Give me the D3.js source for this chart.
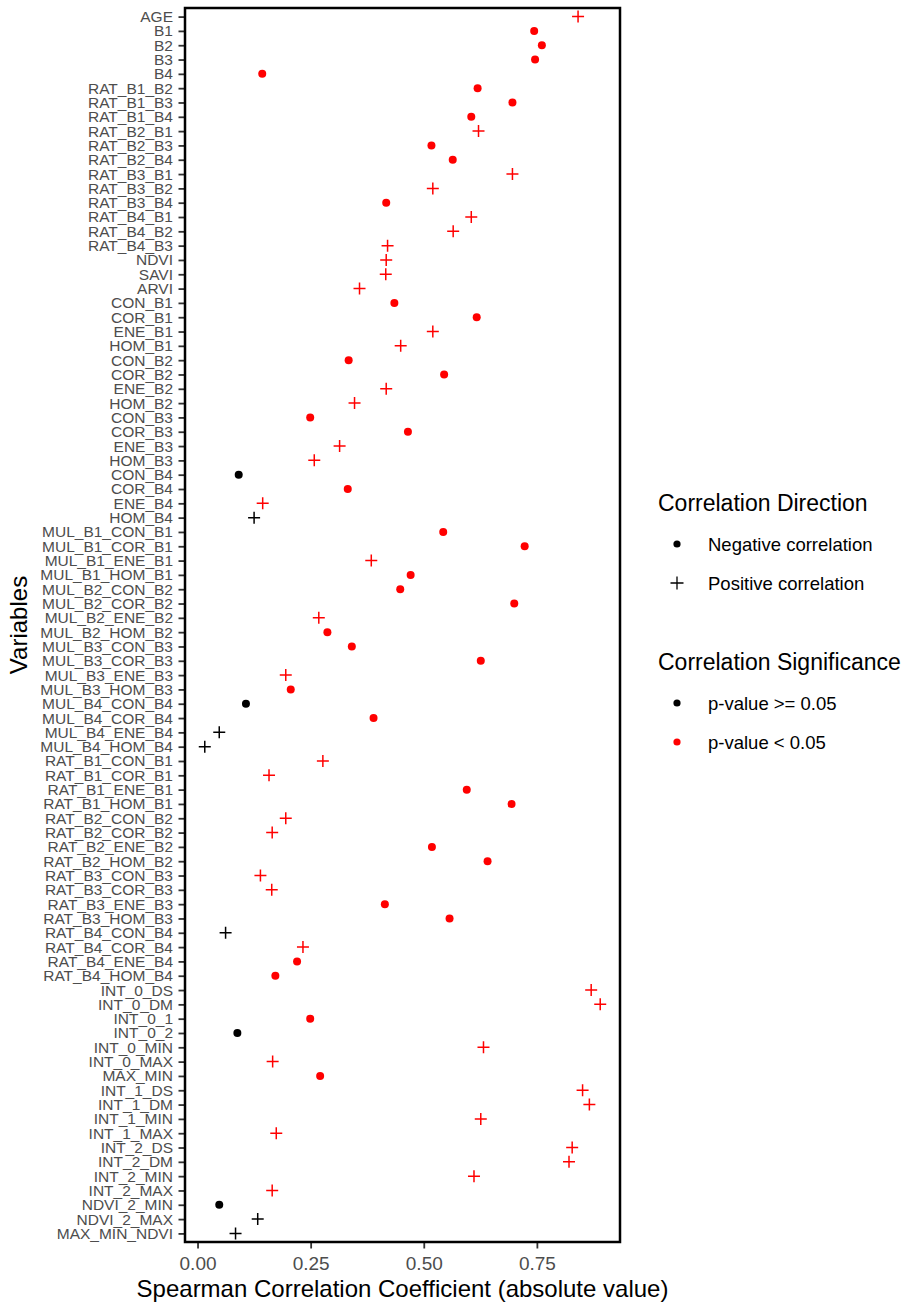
<!DOCTYPE html>
<html>
<head>
<meta charset="utf-8">
<script src="https://cdn.jsdelivr.net/npm/d3@7"></script>
<style>
  body { margin: 0; background: #fff; }
  svg { display: block; font-family: "Liberation Sans", Arial, sans-serif; }
</style>
</head>
<body>
<svg id="chart" width="919" height="1304"></svg>
<script>
// variables, top to bottom
var variables = ["AGE", "B1", "B2", "B3", "B4",
  "RAT_B1_B2", "RAT_B1_B3", "RAT_B1_B4", "RAT_B2_B1", "RAT_B2_B3", "RAT_B2_B4",
  "RAT_B3_B1", "RAT_B3_B2", "RAT_B3_B4", "RAT_B4_B1", "RAT_B4_B2", "RAT_B4_B3",
  "NDVI", "SAVI", "ARVI",
  "CON_B1", "COR_B1", "ENE_B1", "HOM_B1", "CON_B2", "COR_B2", "ENE_B2", "HOM_B2",
  "CON_B3", "COR_B3", "ENE_B3", "HOM_B3", "CON_B4", "COR_B4", "ENE_B4", "HOM_B4",
  "MUL_B1_CON_B1", "MUL_B1_COR_B1", "MUL_B1_ENE_B1", "MUL_B1_HOM_B1",
  "MUL_B2_CON_B2", "MUL_B2_COR_B2", "MUL_B2_ENE_B2", "MUL_B2_HOM_B2",
  "MUL_B3_CON_B3", "MUL_B3_COR_B3", "MUL_B3_ENE_B3", "MUL_B3_HOM_B3",
  "MUL_B4_CON_B4", "MUL_B4_COR_B4", "MUL_B4_ENE_B4", "MUL_B4_HOM_B4",
  "RAT_B1_CON_B1", "RAT_B1_COR_B1", "RAT_B1_ENE_B1", "RAT_B1_HOM_B1",
  "RAT_B2_CON_B2", "RAT_B2_COR_B2", "RAT_B2_ENE_B2", "RAT_B2_HOM_B2",
  "RAT_B3_CON_B3", "RAT_B3_COR_B3", "RAT_B3_ENE_B3", "RAT_B3_HOM_B3",
  "RAT_B4_CON_B4", "RAT_B4_COR_B4", "RAT_B4_ENE_B4", "RAT_B4_HOM_B4",
  "INT_0_DS", "INT_0_DM", "INT_0_1", "INT_0_2", "INT_0_MIN", "INT_0_MAX", "MAX_MIN",
  "INT_1_DS", "INT_1_DM", "INT_1_MIN", "INT_1_MAX",
  "INT_2_DS", "INT_2_DM", "INT_2_MIN", "INT_2_MAX",
  "NDVI_2_MIN", "NDVI_2_MAX", "MAX_MIN_NDVI"];

// |rho|
var coefValues = [0.841, 0.744, 0.761, 0.746, 0.143,
  0.619, 0.696, 0.605, 0.621, 0.517, 0.564,
  0.696, 0.520, 0.417, 0.605, 0.565, 0.420,
  0.417, 0.416, 0.358,
  0.435, 0.617, 0.520, 0.449, 0.334, 0.545, 0.417, 0.347,
  0.249, 0.465, 0.314, 0.258, 0.091, 0.332, 0.144, 0.125,
  0.543, 0.723, 0.384, 0.471,
  0.448, 0.700, 0.268, 0.287,
  0.341, 0.626, 0.195, 0.206,
  0.107, 0.389, 0.048, 0.016,
  0.277, 0.158, 0.595, 0.694,
  0.195, 0.165, 0.518, 0.641,
  0.139, 0.164, 0.414, 0.557,
  0.062, 0.233, 0.220, 0.172,
  0.870, 0.890, 0.249, 0.088, 0.632, 0.166, 0.271,
  0.851, 0.866, 0.626, 0.174,
  0.828, 0.821, 0.611, 0.165,
  0.048, 0.133, 0.084];

// N = negative, P = positive
var directions = ["P", "N", "N", "N", "N",
  "N", "N", "N", "P", "N", "N",
  "P", "P", "N", "P", "P", "P",
  "P", "P", "P",
  "N", "N", "P", "P", "N", "N", "P", "P",
  "N", "N", "P", "P", "N", "N", "P", "P",
  "N", "N", "P", "N",
  "N", "N", "P", "N",
  "N", "N", "P", "N",
  "N", "N", "P", "P",
  "P", "P", "N", "N",
  "P", "P", "N", "N",
  "P", "P", "N", "N",
  "P", "P", "N", "N",
  "P", "P", "N", "N", "P", "P", "N",
  "P", "P", "P", "P",
  "P", "P", "P", "P",
  "N", "P", "P"];

// 1 = p < 0.05, 0 = p >= 0.05
var significant = [1, 1, 1, 1, 1,
  1, 1, 1, 1, 1, 1,
  1, 1, 1, 1, 1, 1,
  1, 1, 1,
  1, 1, 1, 1, 1, 1, 1, 1,
  1, 1, 1, 1, 0, 1, 1, 0,
  1, 1, 1, 1,
  1, 1, 1, 1,
  1, 1, 1, 1,
  0, 1, 0, 0,
  1, 1, 1, 1,
  1, 1, 1, 1,
  1, 1, 1, 1,
  0, 1, 1, 1,
  1, 1, 1, 0, 1, 1, 1,
  1, 1, 1, 1,
  1, 1, 1, 1,
  0, 0, 0];

var xTicks = [0, 0.25, 0.50, 0.75];
var directionLabels = ["Negative correlation", "Positive correlation"];
var significanceLabels = ["p-value >= 0.05", "p-value < 0.05"];

var rows = variables.map(function(v, i){
  return {name: v, value: coefValues[i], dir: directions[i], sig: significant[i]};
});

var _left = 185, _right = 620, _top = 8, _bottom = 1242;
var _textGrey = "#4d4d4d";
var _dotR = 4, _plusHalf = 6;

var svg = d3.select("#chart");

// ggplot style 5% expansion
var ext = d3.extent(coefValues);
var pad = (ext[1] - ext[0]) * 0.05;
var x = d3.scaleLinear().domain([ext[0] - pad, ext[1] + pad]).range([_left, _right]);
var y = d3.scalePoint().domain(variables).range([_top, _bottom]).padding(0.6);

var colorOf = function(s){ return s ? "#ff0000" : "#000000"; };

// ejes
var gx = svg.append("g")
  .attr("transform", "translate(0," + _bottom + ")")
  .call(d3.axisBottom(x).tickValues(xTicks).tickFormat(d3.format(".2f")).tickSize(6.5).tickPadding(8));
gx.select(".domain").remove();
gx.selectAll(".tick line").attr("stroke", "#333").attr("stroke-width", 1.8);
gx.selectAll(".tick text").attr("fill", _textGrey).style("font-size", "19px")
  .style("font-family", "Liberation Sans, Arial, sans-serif");

var gy = svg.append("g")
  .attr("transform", "translate(" + _left + ",0)")
  .call(d3.axisLeft(y).tickSize(6.5).tickPadding(5.5));
gy.select(".domain").remove();
gy.selectAll(".tick line").attr("stroke", "#333").attr("stroke-width", 1.8);
gy.selectAll(".tick text").attr("fill", _textGrey).style("font-size", "15.5px")
  .style("font-family", "Liberation Sans, Arial, sans-serif");

// puntos
var marks = svg.append("g");

marks.selectAll("circle.neg")
  .data(rows.filter(function(d){ return d.dir == "N"; }))
  .enter()
  .append("circle")
  .attr("class", "neg")
  .attr("cx", function(d){ return x(d.value); })
  .attr("cy", function(d){ return y(d.name); })
  .attr("r", _dotR)
  .style("fill", function(d){ return colorOf(d.sig); });

marks.selectAll("path.pos")
  .data(rows.filter(function(d){ return d.dir == "P"; }))
  .enter()
  .append("path")
  .attr("class", "pos")
  .attr("d", function(d){
    var cx = x(d.value), cy = y(d.name);
    return "M" + (cx - _plusHalf) + "," + cy + "H" + (cx + _plusHalf) +
      "M" + cx + "," + (cy - _plusHalf) + "V" + (cy + _plusHalf);
  })
  .style("fill", "none")
  .style("stroke", function(d){ return colorOf(d.sig); })
  .style("stroke-width", 1.5);

// borde del panel
svg.append("rect")
  .attr("x", _left).attr("y", _top)
  .attr("width", _right - _left).attr("height", _bottom - _top)
  .style("fill", "none").style("stroke", "#000").style("stroke-width", 2.5);

// titulos
svg.append("text")
  .attr("x", (_left + _right) / 2).attr("y", 1297)
  .attr("text-anchor", "middle")
  .style("font-size", "24px")
  .text("Spearman Correlation Coefficient (absolute value)");

svg.append("text")
  .attr("transform", "translate(27," + (_top + _bottom) / 2 + ") rotate(-90)")
  .attr("text-anchor", "middle")
  .style("font-size", "24px")
  .text("Variables");

// leyendas
var legX = 658, keyX = 677, labX = 708;

svg.append("text").attr("x", legX).attr("y", 511)
  .style("font-size", "23px").text("Correlation Direction");

var dirY = [544, 583];
svg.append("circle").attr("cx", keyX).attr("cy", dirY[0]).attr("r", 3.6).style("fill", "#000");
svg.append("path")
  .attr("d", "M" + (keyX - 6.5) + "," + dirY[1] + "H" + (keyX + 6.5) +
    "M" + keyX + "," + (dirY[1] - 6.5) + "V" + (dirY[1] + 6.5))
  .style("stroke", "#000").style("stroke-width", 1.3);
directionLabels.forEach(function(t, i){
  svg.append("text").attr("x", labX).attr("y", dirY[i] + 6.6)
    .style("font-size", "18.5px").text(t);
});

svg.append("text").attr("x", legX).attr("y", 670)
  .style("font-size", "23px").text("Correlation Significance");

var sigY = [703, 742];
[0, 1].forEach(function(s, i){
  svg.append("circle").attr("cx", keyX).attr("cy", sigY[i]).attr("r", 3.6).style("fill", colorOf(s));
  svg.append("text").attr("x", labX).attr("y", sigY[i] + 6.6)
    .style("font-size", "18.5px").text(significanceLabels[i]);
});
</script>
</body>
</html>
